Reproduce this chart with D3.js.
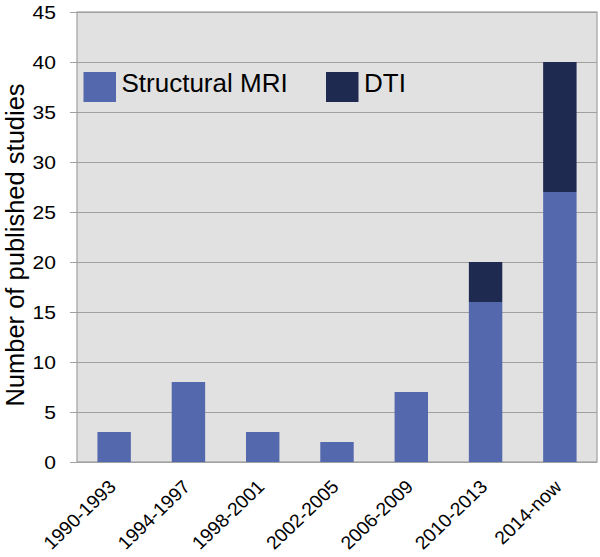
<!DOCTYPE html>
<html>
<head>
<meta charset="utf-8">
<script src="https://cdn.jsdelivr.net/npm/d3@7"></script>
<style>
  html, body { margin: 0; padding: 0; background: #fff; }
  svg { display: block; }
  text { font-family: "Liberation Sans", Arial, sans-serif; fill: #000; }
</style>
</head>
<body>
<svg id="chart" width="600" height="557"></svg>
<script>
const categories = ["1990-1993", "1994-1997", "1998-2001", "2002-2005", "2006-2009", "2010-2013", "2014-now"];
const structuralMRI = [3, 8, 3, 2, 7, 16, 27];
const dti = [0, 0, 0, 0, 0, 4, 13];
const seriesNames = ["Structural MRI", "DTI"];
const seriesColors = ["#5468ad", "#1e2a50"];
const yTicks = [0, 5, 10, 15, 20, 25, 30, 35, 40, 45];

(function () {
const svg = d3.select("#chart");
const pl = 77, pr = 597, pt = 12, pb = 462;
const stretch = 1.17;

const x = d3.scaleBand().domain(categories).range([pl, pr]).paddingInner(0.55).paddingOuter(0.275);
const y = d3.scaleLinear().domain([0, 45]).range([pb, pt]);

// plot background
svg.append("rect").attr("x", pl).attr("y", pt)
  .attr("width", pr - pl).attr("height", pb - pt)
  .attr("fill", "#e1e1e1").attr("stroke", "#a0a0a0").attr("stroke-width", 1.2);

// y axis gridlines + ticks
const ga = svg.append("g").attr("transform", `translate(${pl},0)`)
  .call(d3.axisLeft(y).tickValues(yTicks).tickSize(0).tickFormat(""));
ga.select(".domain").remove();
ga.selectAll(".tick text").remove();
ga.selectAll(".tick").append("line")
  .attr("x1", -7).attr("x2", pr - pl)
  .attr("stroke", "#a0a0a0").attr("stroke-width", 1.2);
ga.selectAll(".tick").append("text")
  .attr("transform", `translate(-21,0) scale(${stretch},1)`)
  .attr("text-anchor", "end")
  .attr("dy", "0.35em")
  .attr("font-size", 18)
  .attr("fill", "#000")
  .style("font-family", '"Liberation Sans", Arial, sans-serif')
  .text(d => d);

// stacked data
const data = categories.map((c, i) => ({ cat: c, s: structuralMRI[i], d: dti[i] }));
const stack = d3.stack().keys(["s", "d"])(data);

svg.append("g").selectAll("g").data(stack).join("g")
  .attr("fill", (d, i) => seriesColors[i])
  .selectAll("rect").data(d => d.filter(v => v[1] > v[0])).join("rect")
  .attr("x", d => x(d.data.cat))
  .attr("width", x.bandwidth())
  .attr("y", d => y(d[1]))
  .attr("height", d => y(d[0]) - y(d[1]));

// x labels
const xg = svg.append("g");
categories.forEach(c => {
  const cx = x(c) + x.bandwidth() / 2 + 3;
  xg.append("text")
    .attr("transform", `translate(${cx},${pb + 26}) scale(1.05,1) rotate(-45)`)
    .attr("text-anchor", "end")
    .attr("font-size", 18.5)
    .text(c);
});

// y title
svg.append("text")
  .attr("transform", `translate(24,${(pb + pt) / 2 + 8}) rotate(-90)`)
  .attr("text-anchor", "middle")
  .attr("font-size", 25.5)
  .text("Number of published studies");

// legend
const legendX = [83.5, 326];
seriesNames.forEach((n, i) => {
  svg.append("rect").attr("x", legendX[i]).attr("y", 72)
    .attr("width", 32.5).attr("height", 30).attr("fill", seriesColors[i]);
  svg.append("text").attr("x", legendX[i] + 38).attr("y", 92)
    .attr("font-size", 26).text(n);
});
})();
</script>
</body>
</html>
